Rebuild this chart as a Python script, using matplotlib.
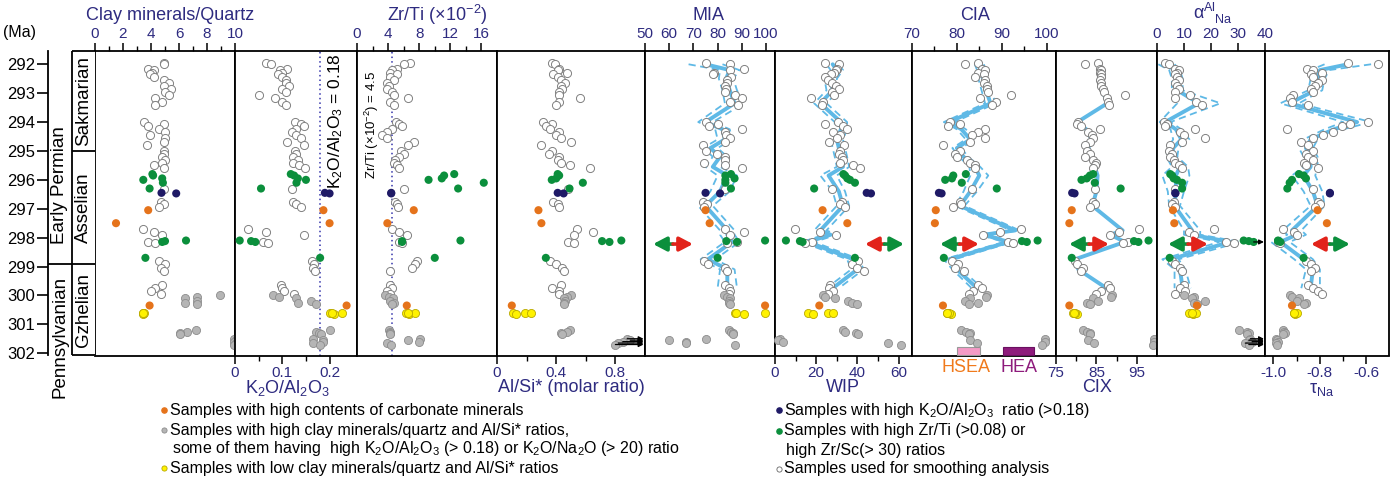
import numpy as np
import matplotlib
matplotlib.use("Agg")
import matplotlib.pyplot as plt

plt.rcParams['font.family'] = ['Liberation Sans', 'DejaVu Sans']
plt.rcParams['mathtext.fontset'] = 'custom'
plt.rcParams['mathtext.rm'] = 'Liberation Sans'
plt.rcParams['mathtext.it'] = 'Liberation Sans:italic'

# ---------------- data (ages in Ma) ----------------
open_age = [291.95, 292.0, 292.15, 292.2, 292.3, 292.35, 292.45, 292.55, 292.65, 292.75, 292.85, 292.95, 293.05, 293.15, 293.3, 293.4,
            294.0, 294.05, 294.15, 294.25, 294.35, 294.45, 294.55, 294.7, 294.8,
            295.0, 295.1, 295.2, 295.3, 295.4, 295.5, 295.6,
            296.3, 296.75, 296.85, 296.95,
            297.7, 297.8, 297.9, 298.15, 298.2,
            298.8, 298.9, 299.05, 299.15,
            299.65, 299.75, 299.85, 299.95]
green_age = [295.8, 295.85, 295.95, 296.0, 296.1, 296.3, 298.1, 298.12, 298.15, 298.7]
navy_age = [296.45, 296.47]
orange_age = [297.05, 297.5, 300.35]
yellow_age = [300.6, 300.65, 300.62, 300.6]
gray_age = [300.0, 300.05, 300.1, 300.2, 300.25, 300.3, 301.2, 301.25, 301.3, 301.35, 301.5, 301.55, 301.6, 301.65, 301.7]

clay_open = [4.9, 4.95, 3.8, 4.2, 4.1, 3.9, 4.2, 4.9, 5.3, 4.9, 5.4, 5.0, 5.3, 4.3, 4.8, 4.3,
             3.5, 4.9, 3.8, 4.6, 5.0, 3.9, 5.0, 4.9, 3.7,
             4.9, 4.95, 4.8, 5.0, 4.8, 4.2, 4.95,
             4.9, 4.7, 4.9, 4.6,
             3.4, 4.2, 4.8, 3.8, 4.3,
             4.6, 5.0, 4.7, 4.9,
             4.8, 4.3, 4.0, 4.7]
clay_green = [4.1, 4.15, 4.8, 3.45, 4.85, 3.9, 6.5, 5.0, 4.8, 3.6]
clay_navy = [4.75, 5.8]
clay_orange = [3.8, 1.5, 3.9]
clay_yellow = [3.4, 3.45, 3.5, 3.4]
clay_gray = [8.9, 7.26, 6.43, 7.26, 6.43, 7.3, 7.2, 6.6, 6.07, 6.07, 9.9, 10.05, 9.95, 10.1, 9.9]

k2o_open = [0.066, 0.076, 0.11, 0.095, 0.1, 0.09, 0.1, 0.108, 0.108, 0.115, 0.1, 0.108, 0.05, 0.085, 0.1, 0.108,
            0.126, 0.14, 0.145, 0.13, 0.12, 0.13, 0.14, 0.11, 0.145,
            0.126, 0.13, 0.122, 0.133, 0.122, 0.136, 0.147,
            0.12, 0.123, 0.13, 0.14,
            0.027, 0.066, 0.145, 0.06, 0.07,
            0.163, 0.168, 0.165, 0.17,
            0.098, 0.1, 0.104, 0.125]
k2o_green = [0.118, 0.125, 0.133, 0.15, 0.13, 0.055, 0.01, 0.034, 0.043, 0.18]
k2o_navy = [0.19, 0.2]
k2o_orange = [0.187, 0.2, 0.236]
k2o_yellow = [0.2, 0.21, 0.226, 0.205]
k2o_gray = [0.08, 0.094, 0.13, 0.16, 0.133, 0.172, 0.2, 0.172, 0.178, 0.182, 0.165, 0.186, 0.186, 0.165, 0.18]

zr_open = [6.8, 6.0, 5.2, 4.5, 4.2, 5.1, 4.3, 4.7, 3.9, 4.1, 3.9, 4.5, 4.7, 6.6, 4.3, 4.7,
           5.0, 5.4, 5.8, 4.5, 3.9, 3.2, 3.9, 7.3, 6.6,
           5.6, 6.0, 5.4, 4.9, 4.7, 5.1, 5.4,
           6.0, 4.9, 5.1, 5.3,
           4.5, 5.4, 6.4, 5.4, 5.8,
           7.7, 7.4, 7.1, 4.2,
           4.3, 4.5, 3.9, 4.2]
zr_green = [12.5, 11.2, 10.9, 9.2, 16.3, 13.0, 13.3, 5.8, 5.8, 10.0]
zr_navy = [4.4, 4.4]
zr_orange = [7.3, 3.9, 6.4]
zr_yellow = [6.3, 6.7, 7.5, 6.5]
zr_gray = [3.6, 4.1, 4.6, 4.3, 4.7, 4.5, 4.1, 4.3, 4.3, 4.2, 8.1, 6.6, 8.0, 3.9, 4.4]

alsi_open = [0.37, 0.39, 0.42, 0.41, 0.47, 0.375, 0.41, 0.43, 0.46, 0.43, 0.44, 0.42, 0.42, 0.56, 0.42, 0.40,
             0.31, 0.37, 0.33, 0.36, 0.42, 0.40, 0.43, 0.50, 0.30,
             0.37, 0.35, 0.42, 0.41, 0.43, 0.49, 0.63,
             0.48, 0.38, 0.41, 0.42,
             0.54, 0.65, 0.52, 0.48, 0.52,
             0.36, 0.40, 0.44, 0.45,
             0.43, 0.37, 0.42, 0.42]
alsi_green = [0.41, 0.42, 0.40, 0.37, 0.58, 0.49, 0.84, 0.71, 0.76, 0.33]
alsi_navy = [0.41, 0.45]
alsi_orange = [0.28, 0.30, 0.10]
alsi_yellow = [0.11, 0.13, 0.19, 0.23]
alsi_gray = [0.50, 0.47, 0.45, 0.46, 0.45, 0.45, 0.49, 0.47, 0.43, 0.44, 0.88, 0.9, 0.85, 0.82, 0.8]

mia_open = [75, 85.2, 91, 85, 78.4, 78, 85.5, 84, 83.9, 83.2, 83.6, 83.2, 87.3, 90, 85.2, 88.6,
            75, 80, 76.4, 90, 83.2, 83.5, 85.2, 83, 74,
            75, 79.7, 83.2, 83.2, 74.5, 83.2, 90,
            83, 74, 75.5, 74.5,
            83.2, 91, 85, 88, 84,
            74.5, 76, 83.2, 84,
            83.2, 84.5, 85.2, 84.5]
mia_green = [85.5, 83.2, 87, 83.2, 83.2, 85.5, 99.6, 83.6, 88, 80]
mia_navy = [75, 81]
mia_orange = [75, 76.7, 99.6]
mia_yellow = [87.3, 91, 99.6, 87.5]
mia_gray = [82.5, 84, 85, 84.5, 84.5, 85, 84.5, 85.5, 86.5, 86.5, 75, 60, 66.8, 66.8, 87.3]

wip_open = [24.3, 31.2, 30, 29.4, 28.6, 27, 24.3, 25.9, 27.5, 29.8, 31.2, 27.5, 28.6, 17.3, 23.5, 23,
            30.8, 24.3, 33.2, 34.8, 28, 31.6, 30, 26.4, 33.5,
            31.6, 31.2, 32.4, 33.2, 31.6, 38, 41.2,
            27.5, 32.4, 31.6, 34,
            9.7, 22, 29.8, 17.8, 14.6,
            40.5, 37.3, 39.6, 43,
            26.7, 26, 28.3, 25.9]
wip_green = [33.2, 34, 35.1, 36.4, 38.8, 19, 5.3, 12.1, 13.4, 38.8]
wip_navy = [44.5, 46.6]
wip_orange = [23.1, 35.1, 21.5]
wip_yellow = [16.2, 18.3, 25.9, 28.3]
wip_gray = [23.1, 24.3, 29.1, 35.6, 37.2, 39.6, 33.2, 34, 39.3, 40.5, 2.4, 1.6, 4.0, 54.7, 61]

cia_open = [84.8, 81.8, 85.6, 86.3, 84.8, 86, 84.1, 86.3, 86, 86.7, 86.7, 87, 92, 85.2, 88.7, 87.8,
            78.5, 80.7, 78.1, 86.3, 84.8, 83.3, 86.3, 82.9, 76.8,
            80.7, 79.6, 80, 82.2, 83, 84.1, 84.1,
            83.3, 80.6, 81, 79.2,
            94.2, 89.6, 85.9, 91.5, 92.6,
            78.9, 80.3, 79.6, 81.5,
            84.8, 85.6, 83.7, 82.6]
cia_green = [82, 79.2, 78.9, 77.4, 81.1, 88.9, 98, 94.5, 95.6, 77.1]
cia_navy = [76, 76.6]
cia_orange = [75.3, 75.1, 76.9]
cia_yellow = [77.7, 78.6, 78.3, 77.9]
cia_gray = [86.8, 86.4, 83, 81.8, 84.8, 82.8, 81, 82, 82.9, 82.6, 99.7, 83, 99.6, 84.6, 98.9]

cix_open = [85.4, 82.1, 85.8, 86.2, 85.8, 86.2, 86.2, 85.8, 86.2, 86.2, 86.6, 87, 92.2, 87.5, 87.9, 88,
            80.5, 80.1, 81.3, 85.8, 83, 83.8, 84.2, 83.4, 82.2,
            82.6, 83.4, 82.2, 84.2, 85, 84.6, 84.2,
            84.6, 84.2, 84.6, 83.4,
            95.5, 90.5, 88.4, 92.8, 91.6,
            79.7, 80.1, 81.7, 81.3,
            87.9, 88.3, 86.2, 85]
cix_green = [84.2, 83.4, 82.6, 81.3, 84.6, 91, 97.9, 94.3, 95.4, 78.9]
cix_navy = [79.0, 79.6]
cix_orange = [78.9, 78.3, 78.3]
cix_yellow = [79.3, 80.1, 79.8, 79.5]
cix_gray = [88.9, 88.7, 84.2, 85.3, 82.6, 83.4, 81.6, 82.6, 83.4, 83.4, 99.3, 83, 99.2, 84.4, 99]

alpha_open = [3.1, 4.3, 6.8, 8.0, 7.4, 6.8, 7.4, 8.0, 6.8, 7.4, 8.0, 6.8, 12.3, 6.8, 14.5, 16.7,
              2.5, 3.7, 3.1, 14.2, 8.6, 9.9, 17.9, 9.3, 4.9,
              4.3, 5.6, 4.9, 6.2, 6.8, 8.0, 9.3,
              6.8, 6.2, 5.6, 6.8,
              21, 11.7, 13.6, 25.7, 28.4,
              5.6, 6.8, 8.6, 9.3,
              9.9, 8.6, 10.5, 6.8]
alpha_green = [4.9, 5.6, 6.2, 7.4, 9.3, 9.3, 32.1, 34, 35.8, 4.7]
alpha_navy = [6.8, 6.8]
alpha_orange = [5.9, 6.4, 14.8]
alpha_yellow = [11.7, 13.3, 14.6, 12.9]
alpha_gray = [9.9, 13.6, 13, 17.9, 13.6, 14.8, 30.2, 33.3, 34, 33.3, 34.6, 34, 35.2, 32.7, 34]

tau_open = [-0.679, -0.55, -0.857, -0.83, -0.79, -0.84, -0.83, -0.79, -0.81, -0.82, -0.84, -0.83, -0.914, -0.93, -0.92, -0.85,
            -0.593, -0.671, -0.707, -0.943, -0.743, -0.786, -0.83, -0.88, -0.85,
            -0.83, -0.86, -0.85, -0.83, -0.87, -0.86, -0.81,
            -0.83, -0.81, -0.8, -0.82,
            -0.96, -0.91, -0.9, -0.98, -0.97,
            -0.86, -0.84, -0.82, -0.84,
            -0.85, -0.83, -0.81, -0.79]
tau_green = [-0.89, -0.87, -0.86, -0.92, -0.93, -0.94, -0.98, -0.98, -0.97, -0.87]
tau_navy = [-0.757, -0.757]
tau_orange = [-0.81, -0.77, -0.92]
tau_yellow = [-0.91, -0.905, -0.9, -0.91]
tau_gray = [-0.93, -0.92, -0.89, -0.9, -0.86, -0.87, -0.96, -0.955, -0.95, -0.96, -0.99, -0.985, -0.98, -0.99, -0.985]

# smoothing curves (solid) and half-width of the dashed envelope
smooth_age = [292.0, 292.2, 292.5, 292.9, 293.35, 294.0, 294.25, 294.6, 294.9, 295.2,
              295.55, 295.85, 296.4, 296.9, 297.75, 297.9, 298.15, 298.75, 299.1, 299.75]
mia_smooth = [75, 85, 83.5, 85, 87, 75, 82, 83, 77, 81, 78, 84, 81, 75, 84, 84, 86, 76, 84, 84]
mia_band = [7, 4, 3, 3, 4, 3, 3, 3, 3, 3, 3, 4, 4, 3, 3, 3, 3, 3, 3, 4]
wip_smooth = [28, 30, 27, 28, 22, 32, 32, 30, 31, 32, 33, 26, 31, 33, 22, 27, 16, 38, 40, 28]
wip_band = [3, 3, 3, 3, 3, 3, 3, 3, 3, 3, 3, 4, 3, 3, 3, 3, 3, 3, 3, 3]
cia_smooth = [85, 85.5, 85.8, 86.5, 87.5, 78.3, 81, 83, 80, 81.5, 84, 85, 83, 80.7, 93, 86, 91.5, 78.3, 80, 84.5]
cia_band = [1, 1, 1, 1, 1.2, 1.2, 1, 1, 1, 1, 1.2, 2, 1.5, 1, 1, 1, 1, 1.2, 1, 1.2]
cix_smooth = [85.4, 86, 86, 86.5, 87.7, 80.3, 82.5, 83.8, 83, 83.5, 84.6, 85.3, 85, 84, 91.5, 88.5, 92, 79.7, 80.5, 87.5]
alpha_smooth = [3.5, 6.5, 7.5, 7.5, 15.5, 3.0, 7, 9, 6, 5.5, 8.5, 7, 7, 6.5, 13, 13, 27, 5, 8.5, 9.5]
alpha_band = [3, 2, 2, 2, 8, 2, 2, 3, 2, 2, 3, 5, 3, 2, 3, 3, 4, 3, 2, 3]
tau_smooth = [-0.68, -0.8, -0.81, -0.82, -0.93, -0.64, -0.74, -0.84, -0.86, -0.84,
              -0.84, -0.87, -0.83, -0.81, -0.92, -0.9, -0.97, -0.87, -0.83, -0.84]
tau_band = [0.1, 0.04, 0.03, 0.03, 0.04, 0.06, 0.04, 0.03, 0.03, 0.03, 0.03, 0.05, 0.04, 0.03, 0.04, 0.04, 0.04, 0.04, 0.03, 0.04]

# stratigraphy
ma_ticks = list(range(292, 303))
stage_bounds = [295.0]
period_bound = 298.9
stages = [('Sakmarian', 293.27), ('Asselian', 296.95), ('Gzhelian', 300.5)]
periods = [('Early Permian', 296.18), ('Pennsylvanian', 301.45)]

# weathering zones on CIA axis
zone_names = ['HSEA', 'HEA']
zone_lo = [80.1, 90.2]
zone_hi = [85.2, 97.1]

# ---------------- layout ----------------
W, H = 1399, 483
TOP, BOT = 51, 355.5
AGE_TOP, AGE_BOT = 291.54, 302.08
NAVY = '#2e2b80'
BLUE = '#5fb9e6'
C_OPEN = ('white', '#808080')
C_GREEN = '#0b8f3c'
C_NAVY = '#1f1a66'
C_ORANGE = '#e5731b'
C_GRAY = ('#b5b5b5', '#8c8c8c')
C_YELLOW = ('#fff200', '#b8a800')
RED = '#e2231a'

fig = plt.figure(figsize=(W / 100, H / 100), dpi=100)


def add_ax(x0, x1):
    return fig.add_axes([x0 / W, 1 - BOT / H, (x1 - x0) / W, (BOT - TOP) / H])


panels = [
    ('clay', 95, 235, (0, 10), 'top', [0, 2, 4, 6, 8, 10], ['0', '2', '4', '6', '8', '10'], [1, 3, 5, 7, 9]),
    ('k2o', 235, 357, (0, 0.258), 'bottom', [0, 0.1, 0.2], ['0', '0.1', '0.2'], [0.05, 0.15]),
    ('zr', 357, 497, (0, 18), 'top', [0, 4, 8, 12, 16], ['0', '4', '8', '12', '16'], [2, 6, 10, 14]),
    ('alsi', 497, 645, (0, 1.0), 'bottom', [0, 0.4, 0.8], ['0', '0.4', '0.8'], [0.2, 0.6]),
    ('mia', 645, 775, (50.4, 103.7), 'top', [50, 60, 70, 80, 90, 100], ['50', '60', '70', '80', '90', '100'], []),
    ('wip', 775, 912, (0, 66.5), 'bottom', [0, 20, 40, 60], ['0', '20', '40', '60'], [10, 30, 50]),
    ('cia', 912, 1056, (70, 102.1), 'top', [70, 80, 90, 100], ['70', '80', '90', '100'], [75, 85, 95]),
    ('cix', 1056, 1157, (75, 100), 'bottom', [75, 85, 95], ['75', '85', '95'], [80, 90]),
    ('alpha', 1157, 1265, (0, 40), 'top', [0, 10, 20, 30, 40], ['0', '10', '20', '30', '40'], []),
    ('tau', 1265, 1389, (-1.036, -0.503), 'bottom', [-1.0, -0.8, -0.6], ['-1.0', '-0.8', '-0.6'], [-0.9, -0.7]),
]

g = globals()
smooth = {'mia': (mia_smooth, mia_band), 'wip': (wip_smooth, wip_band), 'cia': (cia_smooth, cia_band),
          'cix': (cix_smooth, None), 'alpha': (alpha_smooth, alpha_band), 'tau': (tau_smooth, tau_band)}

# double arrows: (left end, centre, right end) in axes fraction, left colour, right colour
arrows = {'mia': (0.062, 0.215, 0.369, C_GREEN, RED), 'wip': (0.657, 0.799, 0.942, RED, C_GREEN),
          'cia': (0.194, 0.33, 0.465, C_GREEN, RED), 'cix': (0.129, 0.327, 0.525, C_GREEN, RED),
          'alpha': (0.102, 0.287, 0.472, C_GREEN, RED), 'tau': (0.371, 0.524, 0.685, RED, C_GREEN)}
ARROW_Y = 0.366

axes = {}
for key, x0, x1, xlim, side, major, labels, minor in panels:
    ax = add_ax(x0, x1)
    axes[key] = ax
    ax.set_xlim(*xlim)
    ax.set_ylim(AGE_BOT, AGE_TOP)
    ax.set_yticks([])
    for s in ax.spines.values():
        s.set_linewidth(1.3)
    ax.set_xticks(major)
    ax.set_xticklabels(labels)
    ax.set_xticks(minor, minor=True)
    top = side == 'top'
    ax.tick_params(axis='x', which='both', top=top, labeltop=top, bottom=not top, labelbottom=not top,
                   direction='out', color='black')
    ax.tick_params(axis='x', which='major', length=6, width=1.1, labelcolor=NAVY, labelsize=11, pad=1.5)
    ax.tick_params(axis='x', which='minor', length=3.5, width=1.0)

    if key in smooth:
        sv, band = smooth[key]
        sv = np.array(sv)
        if band is not None:
            b = np.array(band)
            ax.plot(sv - b, smooth_age, color=BLUE, lw=1.3, ls=(0, (4, 2.5)), zorder=2)
            ax.plot(sv + b, smooth_age, color=BLUE, lw=1.3, ls=(0, (4, 2.5)), zorder=2)
        ax.plot(sv, smooth_age, color=BLUE, lw=2.8, zorder=2, solid_capstyle='round')

    sc = dict(s=34, clip_on=False, zorder=4)
    ax.scatter(g[key + '_open'], open_age, facecolor=C_OPEN[0], edgecolor=C_OPEN[1], lw=0.7, **sc)
    ax.scatter(g[key + '_gray'], gray_age, facecolor=C_GRAY[0], edgecolor=C_GRAY[1], lw=0.6, **sc)
    ax.scatter(g[key + '_yellow'], yellow_age, facecolor=C_YELLOW[0], edgecolor=C_YELLOW[1], lw=0.6, **sc)
    ax.scatter(g[key + '_orange'], orange_age, facecolor=C_ORANGE, edgecolor='none', **sc)
    ax.scatter(g[key + '_navy'], navy_age, facecolor=C_NAVY, edgecolor='none', **sc)
    ax.scatter(g[key + '_green'], green_age, facecolor=C_GREEN, edgecolor='none', **sc)

    if key in arrows:
        xl, xc, xr, cl, cr = arrows[key]
        for xe, c in ((xl, cl), (xr, cr)):
            ax.annotate('', xy=(xe, ARROW_Y), xytext=(xc, ARROW_Y), xycoords='axes fraction',
                        textcoords='axes fraction', zorder=6,
                        arrowprops=dict(arrowstyle='-|>,head_length=0.8,head_width=0.42', color=c, lw=2.6,
                                        shrinkA=0, shrinkB=0, mutation_scale=10))

# reference lines
axes['k2o'].axvline(0.18, color='#3333aa', ls=(0, (1, 2)), lw=1.1, zorder=1)
axes['zr'].axvline(4.5, color='#3333aa', ls=(0, (1, 2)), lw=1.1, zorder=1)

# small black arrows for off-scale values
for key, vals, ages, lim in (('alsi', alsi_gray, gray_age, 0.99), ('alpha', alpha_gray, gray_age, 39.6),
                             ('alpha', alpha_green, green_age, 39.6)):
    for v, a in zip(vals, ages):
        if (key == 'alsi' and v > 0.78) or (key == 'alpha' and (a > 301.45 or v > 35)):
            axes[key].annotate('', xy=(lim, a), xytext=(v, a), zorder=5, annotation_clip=False,
                               arrowprops=dict(arrowstyle='-|>', color='black', lw=0.9,
                                               shrinkA=0, shrinkB=0, mutation_scale=7))

# HSEA / HEA zones
cia_ax = axes['cia']
zone_top = 301.77
cia_ax.barh((zone_top + AGE_BOT) / 2, np.array(zone_hi) - np.array(zone_lo), left=zone_lo,
            height=AGE_BOT - zone_top, color=['#f49ac6', '#8e1b7c'], edgecolor=['#999999', '#6a1060'],
            lw=0.8, zorder=3)

# ---------------- stratigraphic column ----------------
axs = add_ax(48, 95)
axs.set_xlim(0, 1)
axs.set_ylim(AGE_BOT, AGE_TOP)
for n, s in axs.spines.items():
    s.set_visible(n == 'left')
    s.set_linewidth(1.3)
axs.set_xticks([])
axs.set_yticks(ma_ticks)
axs.tick_params(axis='y', length=8, width=1.2, labelsize=12, pad=1.5)
xc = (72 - 48) / 47
lk = dict(color='black', lw=1.3, clip_on=False, solid_capstyle='butt')
axs.plot([xc, xc], [AGE_TOP, AGE_BOT], **lk)
axs.plot([xc, 1], [AGE_TOP, AGE_TOP], **lk)
axs.plot([xc, 1], [AGE_BOT, AGE_BOT], **lk)
for b in stage_bounds:
    axs.plot([xc, 1], [b, b], **lk)
axs.plot([0, 1], [period_bound, period_bound], **lk)
for name, a in stages:
    axs.text((xc + 1) / 2, a, name, rotation=90, ha='center', va='center', fontsize=13.5)
for name, a in periods:
    axs.text(xc / 2, a, name, rotation=90, ha='center', va='center', fontsize=13.5, clip_on=False)

# ---------------- overlay texts (pixel coordinates) ----------------
ov = fig.add_axes([0, 0, 1, 1], facecolor='none')
ov.set_xlim(0, W)
ov.set_ylim(H, 0)
ov.axis('off')
tk = dict(ha='center', va='center', color=NAVY, fontsize=13)
ov.text(20, 32, '(Ma)', ha='center', va='center', fontsize=11.5)
ov.text(170, 16, 'Clay minerals/Quartz', **tk)
ov.text(437, 15, r'Zr/Ti (×10$^{-2}$)', **tk)
ov.text(708, 16, 'MIA', **tk)
ov.text(975, 16, 'CIA', **tk)
ov.text(1213, 13, r'$\mathregular{\alpha^{Al}_{\ \ \ Na}}$', **tk)
ov.text(288, 388, r'K$_2$O/Al$_2$O$_3$', **tk)
ov.text(571, 387, 'Al/Si* (molar ratio)', **tk)
ov.text(843, 387, 'WIP', **tk)
ov.text(1097, 387, 'CIX', **tk)
ov.text(1322, 390, r'$\mathregular{\tau_{Na}}$', **tk)
ov.text(966, 368, zone_names[0], ha='center', va='center', color='#f07a1c', fontsize=13)
ov.text(1019, 368, zone_names[1], ha='center', va='center', color='#8e1b7c', fontsize=13)
ov.text(336, 121, r'K$_2$O/Al$_2$O$_3$ = 0.18', rotation=90, ha='center', va='center', fontsize=12.5)
ov.text(372, 125, r'Zr/Ti (×10$^{-2}$) = 4.5', rotation=90, ha='center', va='center', fontsize=9.5)

lg = dict(ha='left', va='center', fontsize=11.5)
ms = dict(s=14, zorder=5)
ov.scatter([164], [410], color=C_ORANGE, **ms)
ov.text(170, 410, 'Samples with high contents of carbonate minerals', **lg)
ov.scatter([164], [430], facecolor=C_GRAY[0], edgecolor=C_GRAY[1], lw=0.6, **ms)
ov.text(170, 430, 'Samples with high clay minerals/quartz and Al/Si* ratios,', **lg)
ov.text(172, 449, r'some of them having  high K$_2$O/Al$_2$O$_3$ (> 0.18) or K$_2$O/Na$_2$O (> 20) ratio', **lg)
ov.scatter([164], [468], facecolor=C_YELLOW[0], edgecolor=C_YELLOW[1], lw=0.6, **ms)
ov.text(170, 468, 'Samples with low clay minerals/quartz and Al/Si* ratios', **lg)
ov.scatter([779], [410], color=C_NAVY, **ms)
ov.text(784, 410, r'Samples with high K$_2$O/Al$_2$O$_3$  ratio (>0.18)', **lg)
ov.scatter([779], [431], color=C_GREEN, **ms)
ov.text(784, 431, 'Samples with high Zr/Ti (>0.08) or', **lg)
ov.text(786, 450, 'high Zr/Sc(> 30) ratios', **lg)
ov.scatter([779], [469], facecolor='white', edgecolor='#666666', lw=0.6, **ms)
ov.text(784, 469, 'Samples used for smoothing analysis', **lg)

fig.savefig('out.png', dpi=100)
